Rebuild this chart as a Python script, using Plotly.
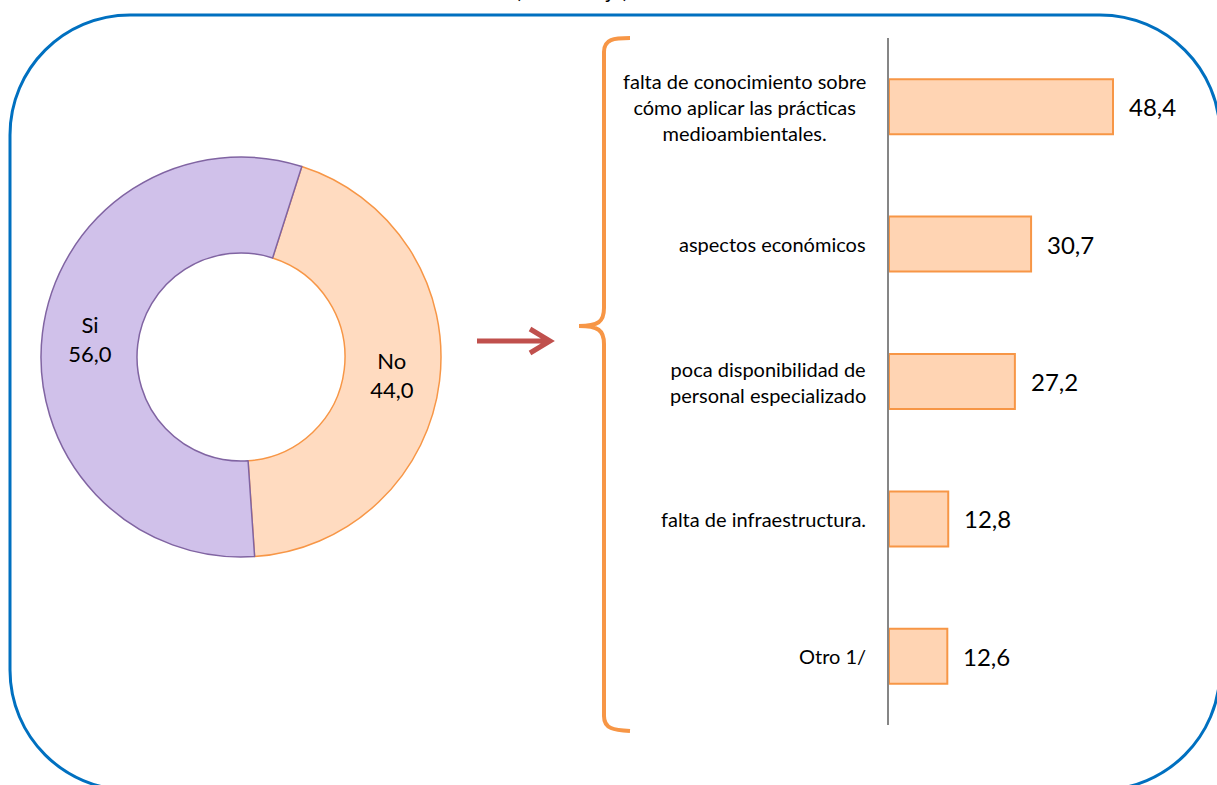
import plotly.graph_objects as go

W, H = 1217, 785

# donut data
pie_labels = ["No", "Si"]
pie_values = [44.0, 56.0]
pie_colors = ["#FFDBC0", "#D0C1EA"]
pie_lines = ["#F79646", "#8064A2"]

# bar data (top to bottom)
bar_categories = [
    "falta de conocimiento sobre<br>cómo aplicar las prácticas<br>medioambientales.",
    "aspectos económicos",
    "poca disponibilidad de<br>personal especializado",
    "falta de infraestructura.",
    "Otro 1/",
]
bar_values = [48.4, 30.7, 27.2, 12.8, 12.6]

title_text = "(Porcentaje)"
FONT = "Lato, 'Open Sans', sans-serif"


def fmt(v):
    return f"{v:.1f}".replace(".", ",")


def path(cmds):
    # cmds: list of (letter, [x, y, x, y, ...]) in pixel coords -> paper coords
    out = []
    for letter, pts in cmds:
        coords = []
        for i in range(0, len(pts), 2):
            coords.append(f"{pts[i] / W:.5f},{1 - pts[i + 1] / H:.5f}")
        out.append(letter + " " + " ".join(coords))
    return " ".join(out)


fig = go.Figure()

fig.add_trace(go.Pie(
    labels=pie_labels,
    values=pie_values,
    text=[f"{l}<br>{fmt(v)}" for l, v in zip(pie_labels, pie_values)],
    textinfo="text",
    insidetextorientation="horizontal",
    textfont=dict(family=FONT, size=22, color="#000000"),
    marker=dict(colors=pie_colors, line=dict(color=pie_lines, width=1.5)),
    hole=0.52,
    sort=False,
    direction="clockwise",
    rotation=17.7,
    showlegend=False,
    hoverinfo="label+value",
    domain=dict(x=[41 / W, 441 / W], y=[1 - 557 / H, 1 - 157 / H]),
))

fig.add_trace(go.Bar(
    x=bar_values,
    y=bar_categories,
    orientation="h",
    width=0.4,
    marker=dict(color="#FFD4B3", line=dict(color="#F79646", width=2)),
    showlegend=False,
))

annotations = []
for cat in bar_categories:
    annotations.append(dict(
        x=868 / W, xref="paper", y=cat, yref="y",
        text=cat, showarrow=False, xanchor="right", align="center",
        font=dict(family=FONT, size=20, color="#000000"),
    ))
for cat, v in zip(bar_categories, bar_values):
    annotations.append(dict(
        x=v, xref="x", y=cat, yref="y",
        text=fmt(v), showarrow=False, xanchor="left", xshift=14,
        font=dict(family=FONT, size=24, color="#000000"),
    ))
annotations.append(dict(
    x=572 / W, xref="paper", y=1, yref="paper", yanchor="bottom", yshift=-5,
    text=title_text, showarrow=False,
    font=dict(family=FONT, size=22, color="#000000"),
))

R, k = 120, 66.3
L, T, Rt, B = 10, 15, 1220, 790
border = path([
    ("M", [L, T + R]),
    ("C", [L, T + R - k, L + R - k, T, L + R, T]),
    ("L", [Rt - R, T]),
    ("C", [Rt - R + k, T, Rt, T + R - k, Rt, T + R]),
    ("L", [Rt, B - R]),
    ("C", [Rt, B - R + k, Rt - R + k, B, Rt - R, B]),
    ("L", [L + R, B]),
    ("C", [L + R - k, B, L, B - R + k, L, B - R]),
]) + " Z"

brace = path([
    ("M", [630, 38]),
    ("C", [614, 38, 604, 39, 604, 52]),
    ("L", [604, 308]),
    ("C", [604, 322, 598, 326, 579, 326]),
    ("M", [579, 326]),
    ("C", [598, 326, 604, 330, 604, 344]),
    ("L", [604, 716]),
    ("C", [604, 729, 614, 730, 630, 731]),
])

arrow = path([
    ("M", [477, 341]),
    ("L", [547, 341]),
    ("M", [530, 329]),
    ("L", [550, 341]),
    ("L", [530, 353]),
])

shapes = [
    dict(type="path", xref="paper", yref="paper", path=border,
         line=dict(color="#0070C0", width=3)),
    dict(type="path", xref="paper", yref="paper", path=brace,
         line=dict(color="#F79646", width=4)),
    dict(type="path", xref="paper", yref="paper", path=arrow,
         line=dict(color="#C0504D", width=5)),
]

fig.update_layout(
    width=W, height=H,
    margin=dict(l=0, r=0, t=0, b=0),
    paper_bgcolor="white", plot_bgcolor="rgba(0,0,0,0)",
    xaxis=dict(domain=[889 / W, 1], range=[0, 328 / 4.628], visible=False,
               showgrid=False, zeroline=False),
    yaxis=dict(domain=[1 - 725 / H, 1 - 38 / H], range=[4.5, -0.5],
               showline=True, linecolor="#868686", linewidth=1.5,
               showticklabels=False, ticks="", showgrid=False, zeroline=False),
    annotations=annotations,
    shapes=shapes,
    font=dict(family=FONT),
)

fig.write_html("out.html", config={"displayModeBar": False},
               post_script="document.body.style.margin = '0';")
